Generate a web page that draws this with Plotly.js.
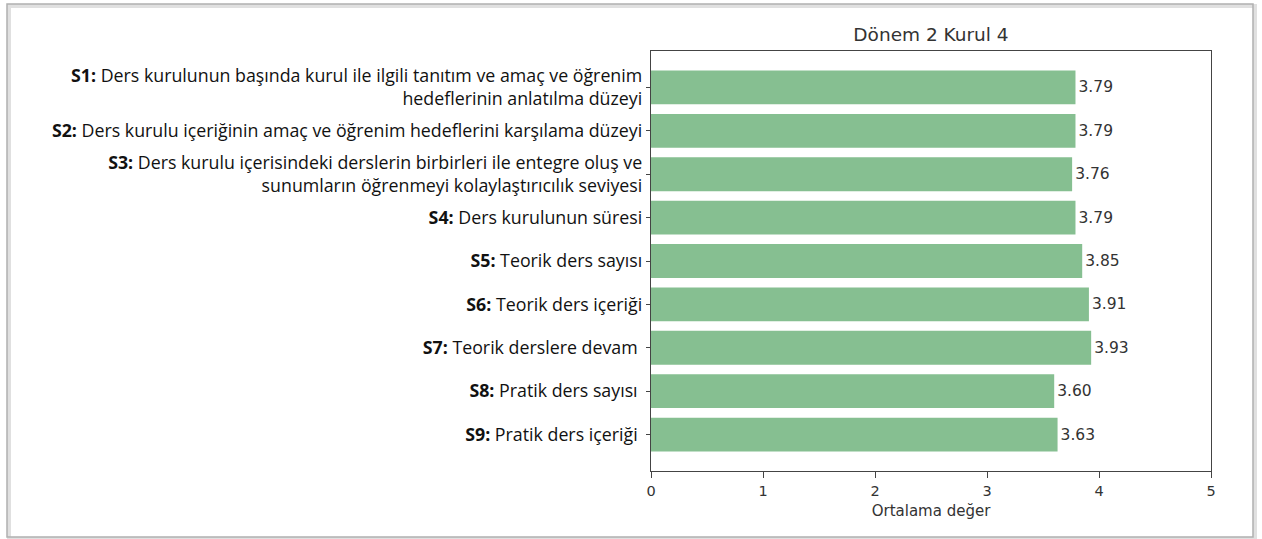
<!DOCTYPE html>
<html>
<head>
<meta charset="utf-8">
<script src="https://cdn.plot.ly/plotly-3.0.1.min.js"></script>
<style>
html,body{margin:0;padding:0;background:#fff;}
#chart{width:1262px;height:539px;}
</style>
</head>
<body>
<div id="chart"></div>
<script>
const codes = ["S1:", "S2:", "S3:", "S4:", "S5:", "S6:", "S7:", "S8:", "S9:"];
const labels = [
  "Ders kurulunun başında kurul ile ilgili tanıtım ve amaç ve öğrenim<br>hedeflerinin anlatılma düzeyi",
  "Ders kurulu içeriğinin amaç ve öğrenim hedeflerini karşılama düzeyi",
  "Ders kurulu içerisindeki derslerin birbirleri ile entegre oluş ve<br>sunumların öğrenmeyi kolaylaştırıcılık seviyesi",
  "Ders kurulunun süresi",
  "Teorik ders sayısı",
  "Teorik ders içeriği",
  "Teorik derslere devam\u00a0",
  "Pratik ders sayısı\u00a0",
  "Pratik ders içeriği\u00a0"
];
const values = [3.79, 3.79, 3.76, 3.79, 3.85, 3.91, 3.93, 3.60, 3.63];
const xTicks = [0, 1, 2, 3, 4, 5];
const chartTitle = "Dönem 2 Kurul 4";
const xTitle = "Ortalama değer";

const positions = values.map((v, i) => i);
const tickText = labels.map((l, i) => "<b>" + codes[i] + "</b> " + l);

const PT = 51, PB = 471, PL = 651, PR = 1211;
const px = v => (v - PL) / (PR - PL);
const py = v => (PB - v) / (PB - PT);

const trace = {
  type: "bar",
  orientation: "h",
  x: values,
  y: positions,
  width: 0.78,
  marker: {color: "#86bf91", line: {width: 0}},
  text: values.map(v => v.toFixed(2)),
  textposition: "outside",
  textfont: {family: "DejaVu Sans", size: 15.5, color: "#333"},
  cliponaxis: false,
  hoverinfo: "none"
};

const layout = {
  width: 1262, height: 539,
  margin: {l: PL, r: 1262 - PR, t: PT, b: 539 - PB},
  paper_bgcolor: "#fff",
  plot_bgcolor: "#fff",
  showlegend: false,
  title: {text: chartTitle, xref: "paper", x: 0.5, xanchor: "center",
          yref: "container", y: 1 - 35 / 539, yanchor: "middle",
          font: {family: "DejaVu Sans", size: 18.5, color: "#333"}},
  xaxis: {
    range: [0, 5], tickvals: xTicks, ticktext: xTicks.map(String),
    showgrid: false, zeroline: false,
    showline: true, linecolor: "#444", linewidth: 1.2, mirror: true,
    ticks: "outside", ticklen: 6, tickcolor: "#444",
    tickfont: {family: "DejaVu Sans", size: 14.5, color: "#333"},
    title: {text: xTitle, standoff: 8, font: {family: "DejaVu Sans", size: 15, color: "#333"}}
  },
  yaxis: {
    range: [8.84, -0.84],
    tickvals: positions, ticktext: tickText,
    showgrid: false, zeroline: false,
    showline: true, linecolor: "#444", linewidth: 1.2, mirror: true,
    ticks: "outside", ticklen: 4, tickcolor: "#444",
    tickfont: {family: "Open Sans", size: 17.8, color: "#111"}
  },
  shapes: [
    {type: "rect", xref: "paper", yref: "paper",
     x0: px(9), x1: px(1255), y0: py(539), y1: py(6),
     line: {color: "rgba(0,0,0,0.12)", width: 4}, fillcolor: "rgba(0,0,0,0)"},
    {type: "rect", xref: "paper", yref: "paper",
     x0: px(7), x1: px(1253), y0: py(537), y1: py(4),
     line: {color: "#b0b0b0", width: 1.5}, fillcolor: "rgba(0,0,0,0)"}
  ]
};

Plotly.newPlot("chart", [trace], layout, {displayModeBar: false, staticPlot: true});
</script>
</body>
</html>
